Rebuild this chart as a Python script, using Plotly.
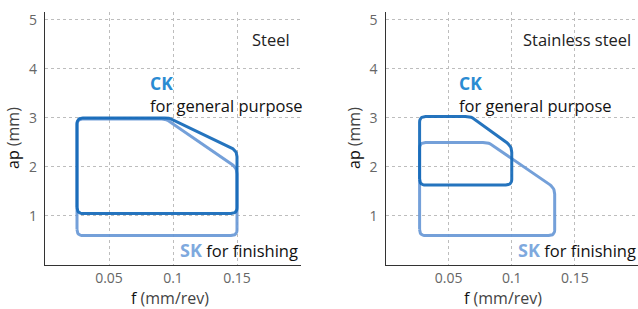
import plotly.graph_objects as go

# ---- data ----
panels = ["Steel", "Stainless steel"]
steel_ck_f = [0.025, 0.150, 0.150, 0.098, 0.025]
steel_ck_ap = [1.05, 1.05, 2.33, 3.00, 3.00]
steel_sk_f = [0.025, 0.150, 0.150, 0.095, 0.025]
steel_sk_ap = [0.60, 0.60, 1.98, 2.98, 2.98]
ss_ck_f = [0.027, 0.100, 0.100, 0.068, 0.027]
ss_ck_ap = [1.63, 1.63, 2.42, 3.03, 3.03]
ss_sk_f = [0.027, 0.134, 0.134, 0.082, 0.027]
ss_sk_ap = [0.60, 0.60, 1.57, 2.50, 2.50]
x_ticks = [0.05, 0.1, 0.15]
x_tick_labels = ["0.05", "0.1", "0.15"]
y_ticks = [1, 2, 3, 4, 5]

CK_LINE = "rgba(18,104,184,0.92)"
SK_LINE = "rgba(104,152,214,0.92)"
CK_TEXT = "#2a8bd2"
SK_TEXT = "#7ea9de"
FONT = "Open Sans"

SX, SY = 1275.0, 49.0  # approximate px per unit, used only for even corner rounding


def rounded(xs, ys, r=6.0, n=8):
    px = [x * SX for x in xs]
    py = [y * SY for y in ys]
    m = len(px)
    ox, oy = [], []
    for i in range(m):
        x0, y0 = px[i - 1], py[i - 1]
        x1, y1 = px[i], py[i]
        x2, y2 = px[(i + 1) % m], py[(i + 1) % m]
        d1 = ((x1 - x0) ** 2 + (y1 - y0) ** 2) ** 0.5
        d2 = ((x2 - x1) ** 2 + (y2 - y1) ** 2) ** 0.5
        rr = min(r, d1 / 2, d2 / 2)
        ax, ay = x1 + (x0 - x1) * rr / d1, y1 + (y0 - y1) * rr / d1
        bx, by = x1 + (x2 - x1) * rr / d2, y1 + (y2 - y1) * rr / d2
        for k in range(n + 1):
            t = k / n
            qx = (1 - t) ** 2 * ax + 2 * (1 - t) * t * x1 + t ** 2 * bx
            qy = (1 - t) ** 2 * ay + 2 * (1 - t) * t * y1 + t ** 2 * by
            ox.append(qx / SX)
            oy.append(qy / SY)
    ox.append(ox[0])
    oy.append(oy[0])
    return ox, oy


fig = go.Figure()
shapes_data = [
    (steel_sk_f, steel_sk_ap, SK_LINE, "x", "y"),
    (steel_ck_f, steel_ck_ap, CK_LINE, "x", "y"),
    (ss_sk_f, ss_sk_ap, SK_LINE, "x2", "y2"),
    (ss_ck_f, ss_ck_ap, CK_LINE, "x2", "y2"),
]
for fx, fy, col, xa, ya in shapes_data:
    rx, ry = rounded(fx, fy)
    fig.add_trace(go.Scatter(x=rx, y=ry, mode="lines", xaxis=xa, yaxis=ya,
                             line=dict(color=col, width=3), hoverinfo="skip",
                             showlegend=False))

axis_common = dict(
    showgrid=True, gridcolor="#bdbdbd", griddash="dot", gridwidth=1.3,
    zeroline=False, showline=True, linecolor="#333", linewidth=1.3,
    ticks="", tickfont=dict(family=FONT, size=14, color="#666"),
    automargin=False,
)
fig.update_layout(
    width=638, height=309,
    margin=dict(l=0, r=0, t=12, b=44),
    plot_bgcolor="white", paper_bgcolor="white",
    xaxis=dict(domain=[45 / 638, 301 / 638], range=[0, 0.2], tickvals=x_ticks,
               ticktext=x_tick_labels, anchor="y", **axis_common),
    yaxis=dict(domain=[0, 1], range=[0, 5.16], tickvals=y_ticks, anchor="x",
               ticklabelstandoff=4, **axis_common),
    xaxis2=dict(domain=[385.5 / 638, 1.0], range=[0, 0.2], tickvals=x_ticks,
                ticktext=x_tick_labels, anchor="y2", **axis_common),
    yaxis2=dict(domain=[0, 1], range=[0, 5.16], tickvals=y_ticks, anchor="x2",
                ticklabelstandoff=4, **axis_common),
)

ann = []
for i, (name, xr, yr, ckx, skx) in enumerate([
        ("Steel", "x", "y", 0.0805, 0.104),
        ("Stainless steel", "x2", "y2", 0.057, 0.103)]):
    ann.append(dict(x=0.193 if i == 0 else 0.196, y=4.6, xref=xr, yref=yr, text=name,
                    showarrow=False, xanchor="right", yanchor="middle",
                    font=dict(family=FONT, size=16.5, color="#222")))
    ann.append(dict(x=ckx, y=3.72, xref=xr, yref=yr, text="<b>CK</b>",
                    showarrow=False, xanchor="left", yanchor="middle",
                    font=dict(family=FONT, size=17.5, color=CK_TEXT)))
    ann.append(dict(x=ckx, y=3.26, xref=xr, yref=yr, text="for general purpose",
                    showarrow=False, xanchor="left", yanchor="middle",
                    font=dict(family=FONT, size=16.5, color="#111")))
    ann.append(dict(x=skx, y=0.31, xref=xr, yref=yr,
                    text="<span style='color:%s;font-size:18px'><b>SK</b></span> for finishing" % SK_TEXT,
                    showarrow=False, xanchor="left", yanchor="middle",
                    font=dict(family=FONT, size=16.5, color="#111")))

for xc, yc in [(170, 13), (503, 354)]:
    ann.append(dict(x=xc / 638, y=-0.13, xref="paper", yref="paper",
                    text="<span style='color:#111'>f</span> (mm/rev)",
                    showarrow=False, xanchor="center", yanchor="middle",
                    font=dict(family=FONT, size=16, color="#444")))
    ann.append(dict(x=yc / 638, y=(309 - 138 - 44) / 253, xref="paper", yref="paper",
                    text="<span style='color:#111'>ap</span> (mm)", textangle=-90,
                    showarrow=False, xanchor="center", yanchor="middle",
                    font=dict(family=FONT, size=16, color="#444")))
fig.update_layout(annotations=ann)

fig.write_html("out.html", config={"displayModeBar": False},
               post_script="document.body.style.margin='0';")
